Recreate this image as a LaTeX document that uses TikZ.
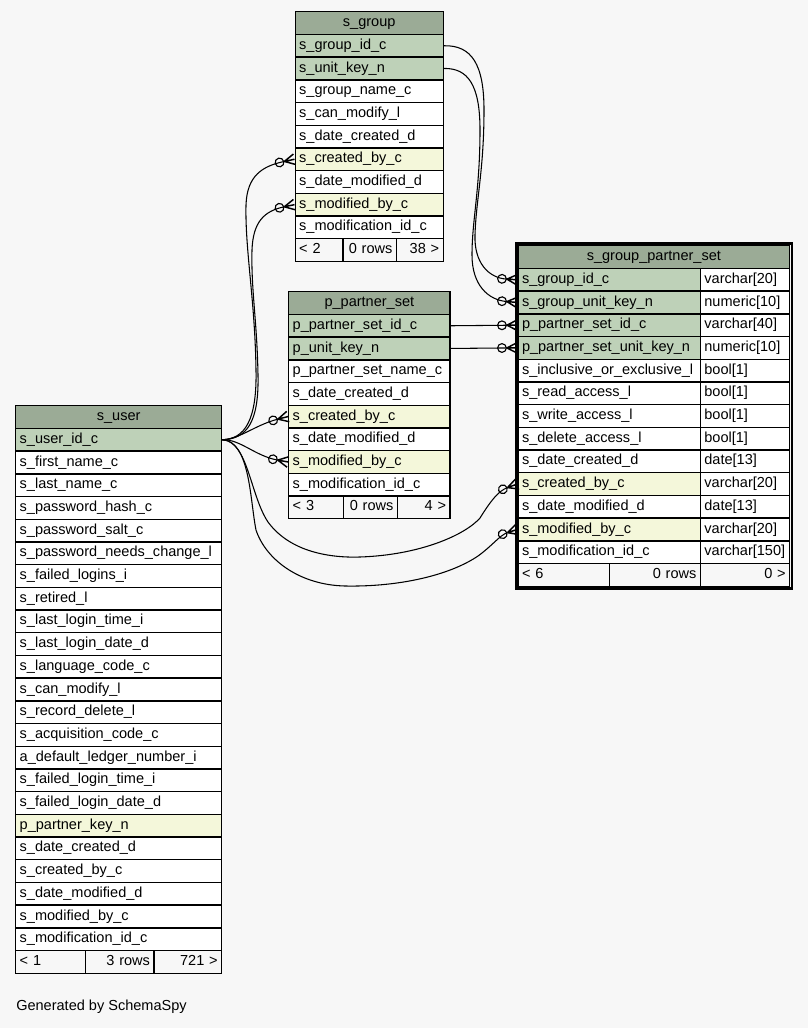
\documentclass[tikz,border=0pt]{standalone}
\usepackage{fontspec}
\setmainfont{Liberation Sans}
\usetikzlibrary{arrows.meta}
\definecolor{bg}{HTML}{F7F7F7}
\definecolor{hdr}{HTML}{9BAB96}
\definecolor{pk}{HTML}{BED1B8}
\definecolor{fk}{HTML}{F4F7DA}
\newcommand\cellfont{\fontsize{10.9pt}{12pt}\selectfont}
\newcommand\rh{22.7}
% #1 name, #2 x, #3 y top, #4 width (px), #5 fill, #6 align, #7 text
\newcommand\tcell[7]{%
  \pgfmathsetlengthmacro\cellTW{(#4)*0.75pt-6pt}%
  \node[cell,fill=#5,text width=\cellTW,align=#6] (#1) at (#2,{#3}) {#7};}
\pgfdeclarearrow{
  name=CrowFoot,
  parameters={\the\pgfarrowlinewidth,\the\pgfarrowlength,\the\pgfarrowwidth},
  setup code={
    \pgfarrowssettipend{0pt}
    \pgfarrowssetlineend{-\pgfarrowlength}
    \pgfarrowssetbackend{-\pgfarrowlength}
    \pgfarrowssetvisualbackend{-\pgfarrowlength}
    \pgfarrowshullpoint{0pt}{.5\pgfarrowwidth}
    \pgfarrowshullpoint{0pt}{-.5\pgfarrowwidth}
    \pgfarrowshullpoint{-\pgfarrowlength}{0pt}
    \pgfarrowssavethe\pgfarrowlinewidth
    \pgfarrowssavethe\pgfarrowlength
    \pgfarrowssavethe\pgfarrowwidth
  },
  drawing code={
    \pgfsetlinewidth{\pgfarrowlinewidth}
    \pgfsetdash{}{0pt}
    \pgfpathmoveto{\pgfqpoint{-\pgfarrowlength}{0pt}}
    \pgfpathlineto{\pgfqpoint{0pt}{.5\pgfarrowwidth}}
    \pgfpathmoveto{\pgfqpoint{-\pgfarrowlength}{0pt}}
    \pgfpathlineto{\pgfqpoint{0pt}{0pt}}
    \pgfpathmoveto{\pgfqpoint{-\pgfarrowlength}{0pt}}
    \pgfpathlineto{\pgfqpoint{0pt}{-.5\pgfarrowwidth}}
    \pgfusepathqstroke
  },
  defaults={length=7.5pt,width=7.5pt}
}
\tikzset{
  cell/.style={draw=black,line width=1.05pt,anchor=north west,inner xsep=3pt,
    inner ysep=0pt,minimum height=17.03pt,text height=7.7pt,text depth=2.3pt,
    font=\cellfont},
  fkline/.style={line width=0.8pt,
    -{Circle[open,length=7.4pt,line width=0.85pt] CrowFoot[length=7.8pt,width=8pt,line width=1.1pt]}},
  frame/.style={line width=1.9pt,draw=black}
}
\begin{document}
\begin{tikzpicture}[x=0.75pt,y=-0.75pt]
\useasboundingbox (0,0) rectangle (808,1028);
\fill[bg] (0,0) rectangle (808,1028);

% ---------- s_group ----------
\tcell{g0}{294.5}{11+0*\rh}{148}{hdr}{center}{s\_group}
\tcell{g1}{294.5}{11+1*\rh}{148}{pk}{left}{s\_group\_id\_c}
\tcell{g2}{294.5}{11+2*\rh}{148}{pk}{left}{s\_unit\_key\_n}
\tcell{g3}{294.5}{11+3*\rh}{148}{white}{left}{s\_group\_name\_c}
\tcell{g4}{294.5}{11+4*\rh}{148}{white}{left}{s\_can\_modify\_l}
\tcell{g5}{294.5}{11+5*\rh}{148}{white}{left}{s\_date\_created\_d}
\tcell{g6}{294.5}{11+6*\rh}{148}{fk}{left}{s\_created\_by\_c}
\tcell{g7}{294.5}{11+7*\rh}{148}{white}{left}{s\_date\_modified\_d}
\tcell{g8}{294.5}{11+8*\rh}{148}{fk}{left}{s\_modified\_by\_c}
\tcell{g9}{294.5}{11+9*\rh}{148}{white}{left}{s\_modification\_id\_c}
\tcell{gfa}{294.5}{11+10*\rh}{47.8}{bg}{left}{< 2}
\tcell{gfb}{342.3}{11+10*\rh}{53.4}{bg}{right}{0 rows}
\tcell{gfc}{395.7}{11+10*\rh}{46.8}{bg}{right}{38 >}

% ---------- p_partner_set ----------
\tcell{p0}{288}{291+0*\rh}{161.3}{hdr}{center}{p\_partner\_set}
\tcell{p1}{288}{291+1*\rh}{161.3}{pk}{left}{p\_partner\_set\_id\_c}
\tcell{p2}{288}{291+2*\rh}{161.3}{pk}{left}{p\_unit\_key\_n}
\tcell{p3}{288}{291+3*\rh}{161.3}{white}{left}{p\_partner\_set\_name\_c}
\tcell{p4}{288}{291+4*\rh}{161.3}{white}{left}{s\_date\_created\_d}
\tcell{p5}{288}{291+5*\rh}{161.3}{fk}{left}{s\_created\_by\_c}
\tcell{p6}{288}{291+6*\rh}{161.3}{white}{left}{s\_date\_modified\_d}
\tcell{p7}{288}{291+7*\rh}{161.3}{fk}{left}{s\_modified\_by\_c}
\tcell{p8}{288}{291+8*\rh}{161.3}{white}{left}{s\_modification\_id\_c}
\tcell{pfa}{288}{291+9*\rh}{54.7}{bg}{left}{< 3}
\tcell{pfb}{342.7}{291+9*\rh}{54}{bg}{right}{0 rows}
\tcell{pfc}{396.7}{291+9*\rh}{52.6}{bg}{right}{4 >}

% ---------- s_user ----------
\tcell{u0}{15}{405+0*\rh}{206}{hdr}{center}{s\_user}
\tcell{u1}{15}{405+1*\rh}{206}{pk}{left}{s\_user\_id\_c}
\tcell{u2}{15}{405+2*\rh}{206}{white}{left}{s\_first\_name\_c}
\tcell{u3}{15}{405+3*\rh}{206}{white}{left}{s\_last\_name\_c}
\tcell{u4}{15}{405+4*\rh}{206}{white}{left}{s\_password\_hash\_c}
\tcell{u5}{15}{405+5*\rh}{206}{white}{left}{s\_password\_salt\_c}
\tcell{u6}{15}{405+6*\rh}{206}{white}{left}{s\_password\_needs\_change\_l}
\tcell{u7}{15}{405+7*\rh}{206}{white}{left}{s\_failed\_logins\_i}
\tcell{u8}{15}{405+8*\rh}{206}{white}{left}{s\_retired\_l}
\tcell{u9}{15}{405+9*\rh}{206}{white}{left}{s\_last\_login\_time\_i}
\tcell{u10}{15}{405+10*\rh}{206}{white}{left}{s\_last\_login\_date\_d}
\tcell{u11}{15}{405+11*\rh}{206}{white}{left}{s\_language\_code\_c}
\tcell{u12}{15}{405+12*\rh}{206}{white}{left}{s\_can\_modify\_l}
\tcell{u13}{15}{405+13*\rh}{206}{white}{left}{s\_record\_delete\_l}
\tcell{u14}{15}{405+14*\rh}{206}{white}{left}{s\_acquisition\_code\_c}
\tcell{u15}{15}{405+15*\rh}{206}{white}{left}{a\_default\_ledger\_number\_i}
\tcell{u16}{15}{405+16*\rh}{206}{white}{left}{s\_failed\_login\_time\_i}
\tcell{u17}{15}{405+17*\rh}{206}{white}{left}{s\_failed\_login\_date\_d}
\tcell{u18}{15}{405+18*\rh}{206}{fk}{left}{p\_partner\_key\_n}
\tcell{u19}{15}{405+19*\rh}{206}{white}{left}{s\_date\_created\_d}
\tcell{u20}{15}{405+20*\rh}{206}{white}{left}{s\_created\_by\_c}
\tcell{u21}{15}{405+21*\rh}{206}{white}{left}{s\_date\_modified\_d}
\tcell{u22}{15}{405+22*\rh}{206}{white}{left}{s\_modified\_by\_c}
\tcell{u23}{15}{405+23*\rh}{206}{white}{left}{s\_modification\_id\_c}
\tcell{ufa}{15}{405+24*\rh}{70}{bg}{left}{< 1}
\tcell{ufb}{85}{405+24*\rh}{68.3}{bg}{right}{3 rows}
\tcell{ufc}{153.3}{405+24*\rh}{67.7}{bg}{right}{721 >}

% ---------- s_group_partner_set ----------
\tcell{s0}{517.3}{245+0*\rh}{271.7}{hdr}{center}{s\_group\_partner\_set}
\tcell{s1}{517.3}{245+1*\rh}{182.4}{pk}{left}{s\_group\_id\_c}
\tcell{t1}{699.7}{245+1*\rh}{89.3}{white}{left}{varchar[20]}
\tcell{s2}{517.3}{245+2*\rh}{182.4}{pk}{left}{s\_group\_unit\_key\_n}
\tcell{t2}{699.7}{245+2*\rh}{89.3}{white}{left}{numeric[10]}
\tcell{s3}{517.3}{245+3*\rh}{182.4}{pk}{left}{p\_partner\_set\_id\_c}
\tcell{t3}{699.7}{245+3*\rh}{89.3}{white}{left}{varchar[40]}
\tcell{s4}{517.3}{245+4*\rh}{182.4}{pk}{left}{p\_partner\_set\_unit\_key\_n}
\tcell{t4}{699.7}{245+4*\rh}{89.3}{white}{left}{numeric[10]}
\tcell{s5}{517.3}{245+5*\rh}{182.4}{white}{left}{s\_inclusive\_or\_exclusive\_l}
\tcell{t5}{699.7}{245+5*\rh}{89.3}{white}{left}{bool[1]}
\tcell{s6}{517.3}{245+6*\rh}{182.4}{white}{left}{s\_read\_access\_l}
\tcell{t6}{699.7}{245+6*\rh}{89.3}{white}{left}{bool[1]}
\tcell{s7}{517.3}{245+7*\rh}{182.4}{white}{left}{s\_write\_access\_l}
\tcell{t7}{699.7}{245+7*\rh}{89.3}{white}{left}{bool[1]}
\tcell{s8}{517.3}{245+8*\rh}{182.4}{white}{left}{s\_delete\_access\_l}
\tcell{t8}{699.7}{245+8*\rh}{89.3}{white}{left}{bool[1]}
\tcell{s9}{517.3}{245+9*\rh}{182.4}{white}{left}{s\_date\_created\_d}
\tcell{t9}{699.7}{245+9*\rh}{89.3}{white}{left}{date[13]}
\tcell{s10}{517.3}{245+10*\rh}{182.4}{fk}{left}{s\_created\_by\_c}
\tcell{t10}{699.7}{245+10*\rh}{89.3}{white}{left}{varchar[20]}
\tcell{s11}{517.3}{245+11*\rh}{182.4}{white}{left}{s\_date\_modified\_d}
\tcell{t11}{699.7}{245+11*\rh}{89.3}{white}{left}{date[13]}
\tcell{s12}{517.3}{245+12*\rh}{182.4}{fk}{left}{s\_modified\_by\_c}
\tcell{t12}{699.7}{245+12*\rh}{89.3}{white}{left}{varchar[20]}
\tcell{s13}{517.3}{245+13*\rh}{182.4}{white}{left}{s\_modification\_id\_c}
\tcell{t13}{699.7}{245+13*\rh}{89.3}{white}{left}{varchar[150]}
\tcell{sfa}{517.3}{245+14*\rh}{91.7}{bg}{left}{< 6}
\tcell{sfb}{609}{245+14*\rh}{90.7}{bg}{right}{0 rows}
\tcell{sfc}{699.7}{245+14*\rh}{89.3}{bg}{right}{0 >}
\draw[frame] (s0.north west) ++(-1.5,-1.4) rectangle ([shift={(1.5,1.8)}]sfc.south east);

% ---------- connectors ----------
\draw[fkline] (g1.east) .. controls (472,45) and (484,65) .. (484,110)
  .. controls (484,170) and (476,200) .. (475,235)
  .. controls (474,262) and (488,278) .. (s1.west);
\draw[fkline] (g2.east) .. controls (468,68) and (480,85) .. (480,130)
  .. controls (480,190) and (472,220) .. (472,255)
  .. controls (472,285) and (488,300) .. (s2.west);
\draw[fkline] (p1.east) -- (s3.west);
\draw[fkline] (p2.east) -- (s4.west);

\draw[fkline] (u1.east) .. controls (245,439) and (257,420) .. (256,370)
  .. controls (255,300) and (245,250) .. (246,205)
  .. controls (247,175) and (263,166) .. (g6.west);
\draw[fkline] (u1.east) .. controls (247,439) and (259,422) .. (258,375)
  .. controls (257,320) and (251,290) .. (252,250)
  .. controls (253,222) and (264,211) .. (g8.west);
\draw[fkline] (u1.east) .. controls (240,439) and (255,425) .. (p5.west);
\draw[fkline] (u1.east) .. controls (240,439) and (255,456) .. (p7.west);
\draw[fkline] (u1.east) .. controls (248,441) and (250,495) .. (268,522)
  .. controls (290,552) and (330,558) .. (360,557)
  .. controls (420,555) and (465,535) .. (480,518)
  .. controls (490,502) and (498,491) .. (s10.west);
\draw[fkline] (u1.east) .. controls (250,441) and (250,500) .. (256,530)
  .. controls (266,560) and (300,585) .. (345,586)
  .. controls (400,587) and (450,575) .. (478,556)
  .. controls (492,546) and (500,535) .. (s12.west);

\node[anchor=west,font=\cellfont,inner sep=0pt] (gen) at (16,1007) {Generated by SchemaSpy};
\end{tikzpicture}
\end{document}
